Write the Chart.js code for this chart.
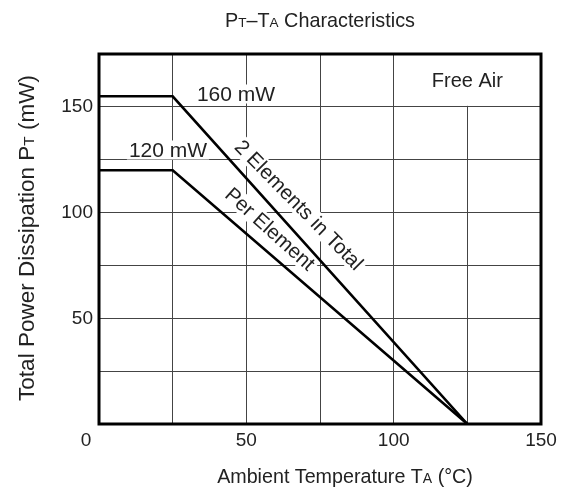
<!DOCTYPE html>
<html>
<head>
<meta charset="utf-8">
<script src="https://cdn.jsdelivr.net/npm/chart.js@4.4.1/dist/chart.umd.min.js"></script>
<style>
  html, body { margin: 0; padding: 0; background: #fff; }
  #wrap { width: 561px; height: 496px; }
</style>
</head>
<body>
<div id="wrap"><canvas id="c" width="561" height="496"></canvas></div>
<script>
// ---- data ----
const temps = [0, 25, 125];               // Ambient temperature (°C)
const totalPower = [155, 155, 0];         // 2 Elements in Total (mW)
const perElement = [120, 120, 0];         // Per Element (mW)
const xTickLabels = [0, 50, 100, 150];
const yTickLabels = [50, 100, 150];

const FONT = '"Liberation Sans", Arial, sans-serif';
const TXT = '#222';

function richWidth(ctx, segs) {
  let w = 0;
  segs.forEach(sg => { ctx.font = sg.s + 'px ' + FONT; w += ctx.measureText(sg.t).width; });
  return w;
}
function drawRich(ctx, segs, cx, baseY) {
  const w = richWidth(ctx, segs);
  let x = cx - w / 2;
  ctx.textAlign = 'left';
  ctx.textBaseline = 'alphabetic';
  segs.forEach(sg => {
    ctx.font = sg.s + 'px ' + FONT;
    ctx.fillText(sg.t, x, baseY);
    x += ctx.measureText(sg.t).width;
  });
}
function labelBox(ctx, text, size, cx, cy, angle, padX, padY) {
  ctx.save();
  ctx.translate(cx, cy);
  ctx.rotate(angle * Math.PI / 180);
  ctx.font = size + 'px ' + FONT;
  const w = ctx.measureText(text).width;
  ctx.fillStyle = '#fff';
  ctx.fillRect(-w / 2 - padX, -size / 2 - padY, w + 2 * padX, size + 2 * padY);
  ctx.fillStyle = TXT;
  ctx.textAlign = 'center';
  ctx.textBaseline = 'middle';
  ctx.fillText(text, 0, 1);
  ctx.restore();
}

const decor = {
  id: 'decor',
  beforeDatasetsDraw(chart) {
    const ctx = chart.ctx;
    const xs = chart.scales.x, ys = chart.scales.y;
    const a = chart.chartArea;
    const bx0 = xs.getPixelForValue(100), by1 = ys.getPixelForValue(150);
    ctx.save();
    ctx.fillStyle = '#fff';
    ctx.fillRect(bx0 + 1.5, a.top, a.right - bx0 - 1.5, by1 - a.top - 1);
    ctx.fillStyle = TXT;
    ctx.font = '20px ' + FONT;
    ctx.textAlign = 'center';
    ctx.textBaseline = 'middle';
    ctx.fillText('Free Air', (bx0 + a.right) / 2, (a.top + by1) / 2 + 1);
    ctx.restore();
    labelBox(ctx, '160 mW', 21, 236, 94, 0, 2, -1);
    labelBox(ctx, '120 mW', 21, 168, 150, 0, 2, -1);
    labelBox(ctx, '2 Elements in Total', 20.5, 299, 205, 45.5, 3, 0);
    labelBox(ctx, 'Per Element', 20.5, 270, 229, 42, 3, 0);
  },
  afterDraw(chart) {
    const ctx = chart.ctx;
    const a = chart.chartArea;
    const xs = chart.scales.x;
    ctx.save();
    ctx.strokeStyle = '#000';
    ctx.lineWidth = 3;
    ctx.strokeRect(a.left, a.top, a.right - a.left, a.bottom - a.top);
    ctx.fillStyle = TXT;
    ctx.font = '19px ' + FONT;
    ctx.textAlign = 'center';
    ctx.textBaseline = 'middle';
    xTickLabels.forEach(v => {
      const shift = v === 0 ? -13 : 0;
      ctx.fillText(String(v), xs.getPixelForValue(v) + shift, a.bottom + 17);
    });
    drawRich(ctx, [{t:'P', s:19.8}, {t:'T', s:13.5}, {t:'–T', s:19.8}, {t:'A', s:13.5}, {t:' Characteristics', s:19.8}], 320, 27);
    drawRich(ctx, [{t:'Ambient Temperature T', s:19.7}, {t:'A', s:14}, {t:' (°C)', s:19.7}], 345, 483);
    ctx.translate(34, 238);
    ctx.rotate(-Math.PI / 2);
    drawRich(ctx, [{t:'Total Power Dissipation P', s:22.5}, {t:'T', s:15.5}, {t:' (mW)', s:22.5}], 0, 0);
    ctx.restore();
  }
};

new Chart(document.getElementById('c'), {
  type: 'line',
  data: {
    datasets: [
      { label: '2 Elements in Total', data: temps.map((t, i) => ({x: t, y: totalPower[i]})),
        borderColor: '#000', borderWidth: 2.6, pointRadius: 0, fill: false, tension: 0 },
      { label: 'Per Element', data: temps.map((t, i) => ({x: t, y: perElement[i]})),
        borderColor: '#000', borderWidth: 2.6, pointRadius: 0, fill: false, tension: 0 }
    ]
  },
  options: {
    responsive: false,
    animation: false,
    devicePixelRatio: 1,
    layout: { padding: { top: 54, right: 20, left: 0, bottom: 0 } },
    plugins: { legend: { display: false }, tooltip: { enabled: false }, title: { display: false } },
    scales: {
      x: {
        type: 'linear', min: 0, max: 150,
        ticks: { stepSize: 25, display: false },
        grid: { color: '#444', lineWidth: 1, drawTicks: false },
        border: { display: false },
        afterFit(s) { s.height = 72; }
      },
      y: {
        type: 'linear', min: 0, max: 175,
        ticks: {
          stepSize: 25, padding: 6, color: TXT,
          font: { family: FONT, size: 19 },
          callback: v => yTickLabels.includes(v) ? String(v) : ''
        },
        grid: { color: '#444', lineWidth: 1, drawTicks: false },
        border: { display: false },
        afterFit(s) { s.width = 99; }
      }
    }
  },
  plugins: [decor]
});
</script>
</body>
</html>
